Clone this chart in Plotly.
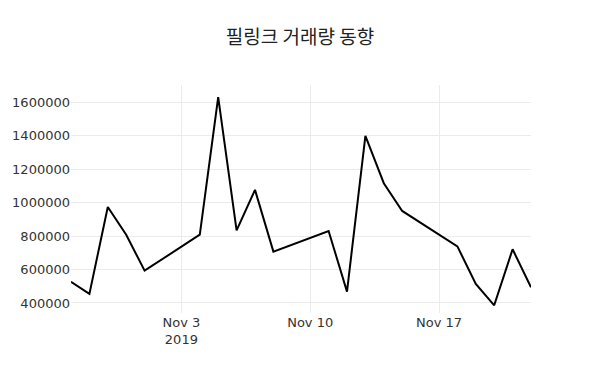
import plotly.graph_objects as go

dates = ["2019-10-28", "2019-10-29", "2019-10-30", "2019-10-31", "2019-11-01",
         "2019-11-04", "2019-11-05", "2019-11-06", "2019-11-07", "2019-11-08",
         "2019-11-11", "2019-11-12", "2019-11-13", "2019-11-14", "2019-11-15",
         "2019-11-18", "2019-11-19", "2019-11-20", "2019-11-21", "2019-11-22"]
volume = [527000, 454000, 974000, 808000, 593000,
          808000, 1630000, 834000, 1076000, 707000,
          830000, 468000, 1399000, 1116000, 950000,
          738000, 514000, 386000, 721000, 494000]

fig = go.Figure()
fig.add_trace(go.Scatter(x=dates, y=volume, mode="lines",
                         line=dict(color="black", width=2)))

fig.update_layout(
    width=600, height=386,
    template="plotly_white",
    title=dict(text="필링크 거래량 동향", x=0.5, xanchor="center", y=0.92,
               font=dict(family="Noto Sans CJK KR", size=19, color="#222")),
    font=dict(family="DejaVu Sans", size=13, color="#333"),
    margin=dict(l=69, r=69, t=85, b=73),
    showlegend=False,
    xaxis=dict(range=["2019-10-28", "2019-11-22"], showgrid=True,
               gridcolor="#ebebeb", dtick=7*86400000, tick0="2019-11-03"),
    yaxis=dict(range=[340000, 1703000], showgrid=True, gridcolor="#ebebeb",
               dtick=200000, tickformat="d", zeroline=False),
)
fig.write_html("out.html")
